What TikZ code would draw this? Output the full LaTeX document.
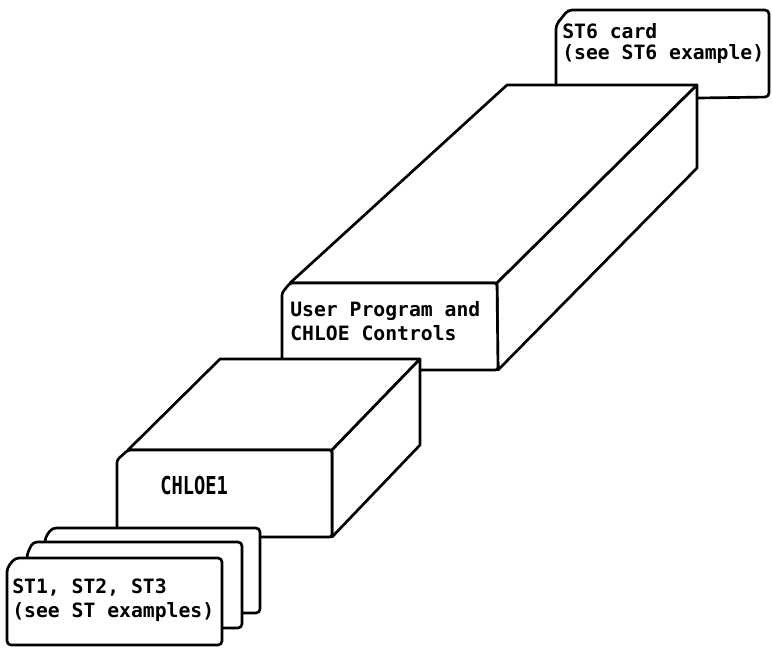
\documentclass[tikz,border=0pt]{standalone}
\usepackage{fontspec}
\usepackage{graphicx}
\newfontfamily\labfont{DejaVu Sans Mono}
\begin{document}
\begin{tikzpicture}[x=0.75pt,y=-0.75pt,
  edge/.style={draw=black, fill=white, line width=2pt, line join=round},
  card/.style={edge, rounded corners=3pt},
  lab/.style={anchor=north west, inner sep=0pt, align=left,
    font=\labfont\bfseries\fontsize{14.8}{18}\selectfont}]
\useasboundingbox (0,0) rectangle (772,647);

% ST6 card (behind the big box)
\draw[card] (556,100) -- (556,25) -- (568,10) -- (769,10) -- (769,97) -- cycle;
\node[lab, font=\labfont\bfseries\fontsize{14.8}{16}\selectfont] (st6) at (562,23) {ST6 card\\(see ST6 example)};

% User Program box
\draw[edge] (290,283) -- (507,85) -- (697,85) -- (497,283) -- cycle;
\draw[edge] (497,283) -- (697,85) -- (697,168) -- (498,370) -- cycle;
\draw[edge, rounded corners=2pt] (282,370) -- (282,293) -- (290,283) -- (497,283) -- (498,370) -- cycle;
\node[lab] (user) at (290,301) {User Program and\\CHLOE Controls};

% CHLOE1 box
\draw[edge] (128,450) -- (220,359) -- (420,359) -- (332,450) -- cycle;
\draw[edge] (332,450) -- (420,359) -- (420,445) -- (332,537) -- cycle;
\draw[edge, rounded corners=2pt] (117,537) -- (117,460) -- (128,450) -- (332,450) -- (332,537) -- cycle;
\node[anchor=north west, inner sep=0pt] (chloe) at (160,476)
  {\scalebox{0.76}[1]{\labfont\bfseries\fontsize{18.5}{20}\selectfont CHLOE1}};

% ST cards
\draw[card] (45,613) -- (45,538) -- (52,528) -- (260,528) -- (260,613) -- cycle;
\draw[card] (27,628) -- (27,554) -- (33,542) -- (242,542) -- (242,628) -- cycle;
\draw[card] (7,645) -- (7,568) -- (15,558) -- (222,558) -- (222,645) -- cycle;
\node[lab] (st) at (12,579) {ST1, ST2, ST3\\(see ST examples)};
\end{tikzpicture}
\end{document}
